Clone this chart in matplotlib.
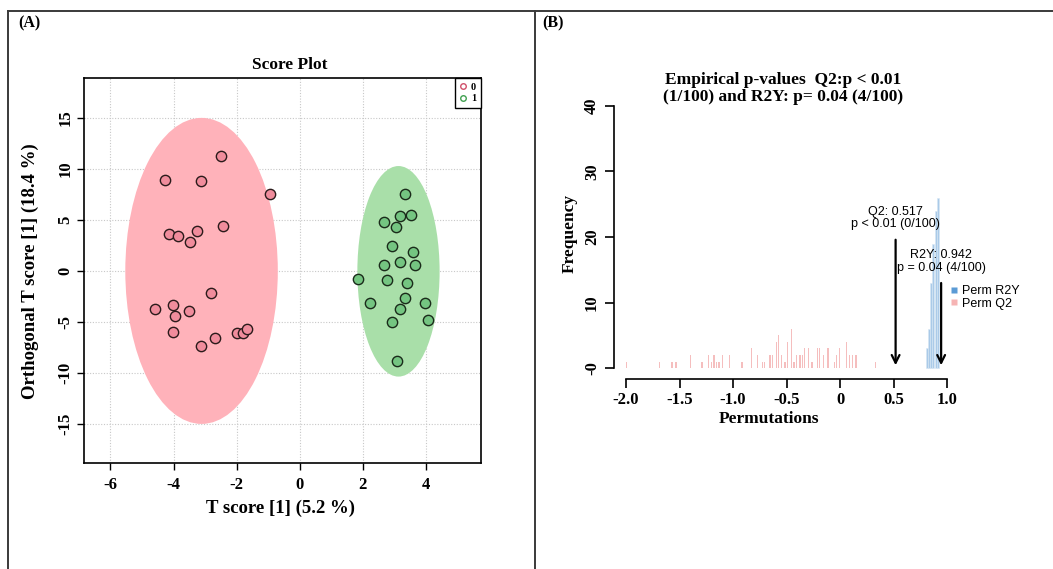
import matplotlib
matplotlib.use("Agg")
import matplotlib.pyplot as plt
from matplotlib.patches import Ellipse
from matplotlib.lines import Line2D

# ---------------- data: panel A (score plot) ----------------
red_t = [-2.48, -4.28, -3.12, -0.94, -2.42, -4.14, -3.85, -3.27, -3.48, -2.82,
         -4.59, -4.02, -3.95, -3.50, -4.02, -3.12, -2.67, -1.97, -1.81, -1.66]
red_o = [11.3, 8.93, 8.86, 7.51, 4.38, 3.59, 3.42, 3.91, 2.88, -2.17,
         -3.70, -3.35, -4.38, -3.95, -5.98, -7.33, -6.62, -6.05, -6.12, -5.69]
green_t = [3.35, 3.18, 3.55, 2.67, 3.07, 2.94, 3.61, 3.19, 2.67, 3.67,
           1.87, 2.77, 3.41, 2.24, 3.34, 3.19, 3.97, 2.93, 4.07, 3.09]
green_o = [7.58, 5.37, 5.48, 4.77, 4.31, 2.42, 1.89, 0.85, 0.57, 0.60,
           -0.75, -0.89, -1.21, -3.10, -2.67, -3.74, -3.17, -5.05, -4.84, -8.79]
# confidence ellipses: centre x, centre y, full width, full height
red_ellipse = [-3.11, 0.0, 4.84, 30.0]
green_ellipse = [3.14, -0.04, 2.61, 20.64]
a_xticks = [-6, -4, -2, 0, 2, 4]
a_yticks = [-15, -10, -5, 0, 5, 10, 15]
group_labels = ["0", "1"]

# ---------------- data: panel B (permutation histogram) ----------------
q2_pos = [-1.995, -1.690, -1.569, -1.534, -1.397, -1.291, -1.232, -1.201, -1.179, -1.154,
          -1.130, -1.098, -1.036, -0.918, -0.827, -0.771, -0.728, -0.706, -0.656, -0.635,
          -0.594, -0.575, -0.547, -0.516, -0.491, -0.454, -0.432, -0.407, -0.376, -0.355,
          -0.332, -0.295, -0.264, -0.215, -0.193, -0.159, -0.115, -0.056, -0.037, -0.009,
          0.060, 0.084, 0.112, 0.146, 0.327]
q2_cnt = [1, 1, 1, 1, 2, 1, 2, 1, 2, 1,
          1, 2, 2, 1, 3, 2, 1, 1, 2, 2,
          4, 5, 2, 1, 4, 6, 1, 2, 2, 2,
          3, 3, 1, 3, 3, 2, 3, 1, 2, 3,
          4, 2, 2, 2, 1]
r2y_pos = [0.81, 0.83, 0.85, 0.87, 0.89, 0.91]
r2y_cnt = [3, 6, 13, 19, 24, 26]
q2_obs, q2_arrow_top = 0.517, 20.0
r2y_obs, r2y_arrow_top = 0.942, 13.4
b_xticks = [-2.0, -1.5, -1.0, -0.5, 0.0, 0.5, 1.0]
b_xticklabels = ["-2.0", "-1.5", "-1.0", "-0.5", "0", "0.5", "1.0"]
b_yticks = [0, 10, 20, 30, 40]
b_yticklabels = ["-0", "10", "20", "30", "40"]

W, H = 1053, 569
fig = plt.figure(figsize=(W / 100, H / 100), dpi=100)
serif = ["Liberation Serif", "DejaVu Serif"]
sans = ["Liberation Sans", "DejaVu Sans"]

def fx(px):
    return px / W

def fy(py):
    return 1 - py / H

# ---------------- frame lines ----------------
frame_kw = dict(color="#3a3a3a", lw=1.4, transform=fig.transFigure)
fig.add_artist(Line2D([fx(7.5), 1.0], [fy(10.5), fy(10.5)], **frame_kw))
fig.add_artist(Line2D([fx(7.5), fx(7.5)], [fy(10.5), 0], **frame_kw))
fig.add_artist(Line2D([fx(535), fx(535)], [fy(10.5), 0], **frame_kw))
fig.text(fx(29), fy(23.5), "(A)", family=serif, weight="bold", fontsize=11.5, ha="center", va="center")
fig.text(fx(553), fy(23.5), "(B)", family=serif, weight="bold", fontsize=11.5, ha="center", va="center")

# ---------------- panel A ----------------
axA = fig.add_axes([fx(83.8), fy(463.4), fx(480.7) - fx(83.8), fy(78) - fy(463.4)])
axA.set_xlim(-6.847, 5.749)
axA.set_ylim(-18.87, 18.91)
axA.add_patch(Ellipse((red_ellipse[0], red_ellipse[1]), red_ellipse[2], red_ellipse[3],
                      facecolor="#FFB2BA", edgecolor="none", zorder=1))
axA.add_patch(Ellipse((green_ellipse[0], green_ellipse[1]), green_ellipse[2], green_ellipse[3],
                      facecolor="#A9DFA9", edgecolor="none", zorder=1))
axA.scatter(red_t, red_o, s=55, facecolor="#F08C9C", edgecolor="#2a1a1a", linewidth=1.0, zorder=3)
axA.scatter(green_t, green_o, s=55, facecolor="#74C581", edgecolor="#1a2a1a", linewidth=1.0, zorder=3)
axA.set_xticks(a_xticks)
axA.set_yticks(a_yticks)
axA.set_xticklabels([str(v) for v in a_xticks])
axA.set_yticklabels([str(v) for v in a_yticks])
axA.grid(True, linestyle=(0, (1, 1.5)), color="#c8c8c8", lw=0.8, zorder=0)
axA.set_axisbelow(True)
axA.tick_params(axis="both", direction="out", length=5, width=1.0, labelsize=12)
axA.tick_params(axis="x", pad=4.8)
axA.tick_params(axis="y", pad=2.5)
for lab in axA.get_xticklabels():
    lab.set_fontfamily(serif)
    lab.set_fontweight("bold")
for lab in axA.get_yticklabels():
    lab.set_fontfamily(serif)
    lab.set_fontweight("bold")
    lab.set_rotation(90)
    lab.set_va("center")
for sp in axA.spines.values():
    sp.set_linewidth(1.2)
leg_handles = [Line2D([], [], marker="o", ls="none", markersize=4, markerfacecolor="none",
                      markeredgecolor="#D0506A", markeredgewidth=1.0),
               Line2D([], [], marker="o", ls="none", markersize=4, markerfacecolor="none",
                      markeredgecolor="#40A050", markeredgewidth=1.0)]
legA = axA.legend(leg_handles, group_labels, loc="upper right", borderaxespad=0,
                  handlelength=0.8, handletextpad=0.3, borderpad=0.45,
                  labelspacing=0.2, fancybox=False, framealpha=1, edgecolor="black",
                  prop={"family": serif, "weight": "bold", "size": 7.5})
legA.get_frame().set_linewidth(1.0)
fig.text(fx(290), fy(65.3), "Score Plot", family=serif, weight="bold", fontsize=12.5, ha="center", va="center")
fig.text(fx(281), fy(508), "T score [1] (5.2 %)", family=serif, weight="bold", fontsize=13.5,
         ha="center", va="center")
fig.text(fx(30.4), fy(271), "Orthogonal T score [1] (18.4 %)", family=serif, weight="bold",
         fontsize=13.5, ha="center", va="center", rotation=90)

# ---------------- panel B ----------------
axB = fig.add_axes([fx(614), fy(379.2), fx(960.2) - fx(614), fy(94.7) - fy(379.2)])
axB.set_xlim(-2.112, 1.12)
axB.set_ylim(-1.7, 41.7)
axB.bar(q2_pos, q2_cnt, width=0.013, color="#F5BEBE", edgecolor="none", zorder=2)
axB.bar(r2y_pos, r2y_cnt, width=0.019, color="#AACAE8", edgecolor="#d6e6f4", linewidth=0.4, zorder=2)
axB.annotate("", xy=(q2_obs, 0), xytext=(q2_obs, q2_arrow_top),
             arrowprops=dict(arrowstyle="->", lw=1.6, color="black", mutation_scale=14), zorder=4)
axB.annotate("", xy=(r2y_obs, 0), xytext=(r2y_obs, r2y_arrow_top),
             arrowprops=dict(arrowstyle="->", lw=1.6, color="black", mutation_scale=14), zorder=4)
axB.text(q2_obs, 21.0, "Q2: 0.517\np < 0.01 (0/100)", family=sans, fontsize=9, ha="center",
         va="bottom", linespacing=1.05, zorder=5)
axB.text(r2y_obs, 14.4, "R2Y: 0.942\np = 0.04 (4/100)", family=sans, fontsize=9, ha="center",
         va="bottom", linespacing=1.05, zorder=5)
for sp in ["top", "right"]:
    axB.spines[sp].set_visible(False)
axB.spines["left"].set_bounds(0, 40)
axB.spines["bottom"].set_bounds(-2.0, 1.0)
axB.spines["left"].set_linewidth(1.2)
axB.spines["bottom"].set_linewidth(1.2)
axB.set_xticks(b_xticks)
axB.set_xticklabels(b_xticklabels)
axB.set_yticks(b_yticks)
axB.set_yticklabels(b_yticklabels)
axB.tick_params(axis="both", direction="out", length=6.7, width=1.2, labelsize=12)
axB.tick_params(axis="x", pad=2.7)
axB.tick_params(axis="y", pad=3.3)
for lab in axB.get_xticklabels():
    lab.set_fontfamily(serif)
    lab.set_fontweight("bold")
for lab in axB.get_yticklabels():
    lab.set_fontfamily(serif)
    lab.set_fontweight("bold")
    lab.set_rotation(90)
    lab.set_va("center")
legB_handles = [Line2D([], [], marker="s", ls="none", markersize=4, markerfacecolor="#5B9BD5",
                       markeredgecolor="none"),
                Line2D([], [], marker="s", ls="none", markersize=4, markerfacecolor="#F6B4B4",
                       markeredgecolor="none")]
axB.legend(legB_handles, ["Perm R2Y", "Perm Q2"], loc="upper left",
           bbox_to_anchor=(fx(950), fy(285)), bbox_transform=fig.transFigure,
           frameon=False, handlelength=0.6, handletextpad=0.4, borderpad=0, labelspacing=0.05,
           borderaxespad=0, prop={"family": sans, "size": 9})
fig.text(fx(783.5), fy(88.5), "Empirical p-values  Q2:p < 0.01\n(1/100) and R2Y: p= 0.04 (4/100)",
         family=serif, weight="bold", fontsize=12.5, ha="center", va="center", linespacing=1.1)
fig.text(fx(769), fy(419), "Permutations", family=serif, weight="bold", fontsize=12.5,
         ha="center", va="center")
fig.text(fx(569.4), fy(233), "Frequency", family=serif, weight="bold", fontsize=12.5,
         ha="center", va="center", rotation=90)

fig.savefig("out.png", dpi=100, facecolor="white")
